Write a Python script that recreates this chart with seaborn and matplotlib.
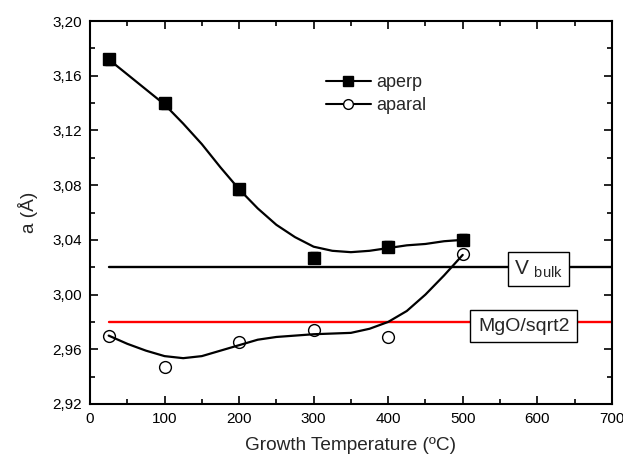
import matplotlib
matplotlib.use("Agg")
import matplotlib.pyplot as plt
import seaborn as sns
from matplotlib.lines import Line2D
from matplotlib.ticker import MultipleLocator, FuncFormatter

# measured points
temps = [25, 100, 200, 300, 400, 500]
aperp = [3.172, 3.140, 3.077, 3.027, 3.035, 3.040]
aperp_err = [0.004, 0.004, 0.004, 0.004, 0.004, 0.004]
aparal = [2.970, 2.947, 2.965, 2.974, 2.969, 3.030]

# smooth fit curves
fit_t = [25, 50, 75, 100, 125, 150, 175, 200, 225, 250,
         275, 300, 325, 350, 375, 400, 425, 450, 475, 500]
fit_perp = [3.172, 3.161, 3.150, 3.139, 3.125, 3.110, 3.093, 3.077, 3.063, 3.051,
            3.042, 3.035, 3.032, 3.031, 3.032, 3.034, 3.036, 3.037, 3.039, 3.040]
fit_paral = [2.970, 2.964, 2.959, 2.955, 2.9535, 2.955, 2.959, 2.963, 2.967, 2.969,
             2.970, 2.971, 2.9715, 2.972, 2.975, 2.980, 2.988, 3.000, 3.014, 3.029]

# reference levels
ref_x = [25, 700]
v_bulk = [3.02, 3.02]
mgo_sqrt2 = [2.98, 2.98]

sns.set_style("ticks")
plt.rcParams['font.family'] = ['Liberation Sans', 'DejaVu Sans']
plt.rcParams['mathtext.fontset'] = 'custom'
plt.rcParams['mathtext.rm'] = 'Liberation Sans'

fig = plt.figure(figsize=(6.23, 4.57), dpi=100)
ax = fig.add_axes([0.1445, 0.116, 0.8375, 0.838])

sns.lineplot(x=ref_x, y=v_bulk, ax=ax, color='black', lw=1.7)
sns.lineplot(x=ref_x, y=mgo_sqrt2, ax=ax, color='#ff0000', lw=1.7)

sns.lineplot(x=fit_t, y=fit_perp, ax=ax, color='black', lw=1.6, estimator=None,
             solid_joinstyle='round')
sns.lineplot(x=fit_t, y=fit_paral, ax=ax, color='black', lw=1.6, estimator=None,
             solid_joinstyle='round')

ax.errorbar(temps, aperp, yerr=aperp_err, fmt='s', ms=8.5, color='black',
            ecolor='black', elinewidth=1, capsize=3, zorder=5)
ax.plot(temps, aparal, 'o', ms=8.5, mfc='none', mec='black', mew=1, zorder=5)

ax.text(602, 3.0187, r"V $_{\mathrm{bulk}}$", fontsize=15, ha='center', va='center',
        bbox=dict(boxstyle='square,pad=0.3', fc='white', ec='black', lw=1), zorder=6)
ax.text(582, 2.977, "MgO/sqrt2", fontsize=14, ha='center', va='center',
        bbox=dict(boxstyle='square,pad=0.4', fc='white', ec='black', lw=1), zorder=6)

handles = [Line2D([0], [0], color='black', lw=1.5, marker='s', ms=7),
           Line2D([0], [0], color='black', lw=1.5, marker='o', ms=7, mfc='white')]
ax.legend(handles, ['aperp', 'aparal'], loc='upper left', bbox_to_anchor=(0.452, 0.862),
          frameon=False, fontsize=13, handlelength=2.5, handletextpad=0.3,
          borderpad=0, borderaxespad=0, labelspacing=0.35, numpoints=1)

ax.set_xlim(0, 700)
ax.set_ylim(2.92, 3.20)
ax.xaxis.set_major_locator(MultipleLocator(100))
ax.xaxis.set_minor_locator(MultipleLocator(50))
ax.yaxis.set_major_locator(MultipleLocator(0.04))
ax.yaxis.set_minor_locator(MultipleLocator(0.02))
ax.yaxis.set_major_formatter(FuncFormatter(lambda v, p: f"{v:.2f}".replace('.', ',')))
ax.tick_params(which='both', direction='in', top=True, right=True, width=1.2,
               labelsize=11, colors='black')
ax.tick_params(which='major', length=6, pad=6)
ax.tick_params(which='minor', length=3.5)
for s in ax.spines.values():
    s.set_linewidth(1.5)
    s.set_color('black')

ax.set_xlabel("Growth Temperature (ºC)", fontsize=13.7, labelpad=8)
ax.set_ylabel("a (Å)", fontsize=13.7, labelpad=10)

fig.savefig("out.png", dpi=100)
